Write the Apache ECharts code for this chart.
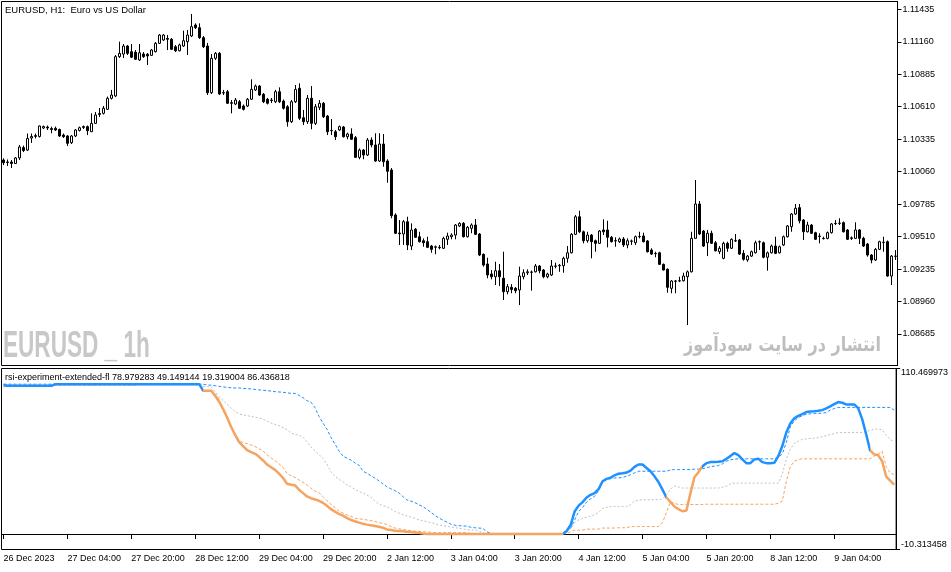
<!DOCTYPE html>
<html>
<head>
<meta charset="utf-8">
<script src="https://cdn.jsdelivr.net/npm/echarts@6/dist/echarts.min.js"></script>
<style>
html,body{margin:0;padding:0;background:#fff;}
#chart{width:951px;height:572px;}
</style>
</head>
<body>
<div id="chart"></div>
<script>
// ---------------- data ----------------
const tickLabels = ['26 Dec 2023','27 Dec 04:00','27 Dec 20:00','28 Dec 12:00','29 Dec 04:00','29 Dec 20:00',
  '2 Jan 12:00','3 Jan 04:00','3 Jan 20:00','4 Jan 12:00','5 Jan 04:00','5 Jan 20:00','8 Jan 12:00','9 Jan 04:00'];
const priceTicks = [1.11435,1.11160,1.10885,1.10610,1.10335,1.10060,1.09785,1.09510,1.09235,1.08960,1.08685];
const indicatorTicks = [-10.313458,110.469973];
const indicatorName = 'rsi-experiment-extended-fl';
const indicatorValues = ['78.979283','49.149144','19.319004','86.436818'];

const open = [1.10159,1.10142,1.10142,1.10129,1.10176,1.10264,1.10243,1.10345,1.10358,1.10358,
1.10430,1.10438,1.10425,1.10427,1.10417,1.10370,1.10362,1.10305,1.10362,1.10409,
1.10434,1.10441,1.10398,1.10469,1.10544,1.10554,1.10588,1.10681,1.10701,1.11034,
1.11056,1.11124,1.11076,1.11071,1.11006,1.11056,1.11054,1.11045,1.11076,1.11147,
1.11175,1.11188,1.11181,1.11118,1.11084,1.11124,1.11161,1.11209,1.11302,1.11279,
1.11195,1.11124,1.10729,1.11020,1.11062,1.10726,1.10737,1.10644,1.10633,1.10652,
1.10616,1.10616,1.10673,1.10752,1.10785,1.10715,1.10673,1.10667,1.10652,1.10737,
1.10658,1.10610,1.10483,1.10652,1.10766,1.10517,1.10483,1.10681,1.10469,1.10605,
1.10639,1.10531,1.10407,1.10398,1.10413,1.10438,1.10356,1.10379,1.10348,1.10181,
1.10243,1.10201,1.10328,1.10286,1.10150,1.10294,1.10150,1.10074,1.09693,1.09540,
1.09532,1.09636,1.09430,1.09572,1.09509,1.09475,1.09467,1.09430,1.09419,1.09419,
1.09411,1.09487,1.09509,1.09523,1.09600,1.09622,1.09509,1.09580,1.09608,1.09532,
1.09360,1.09278,1.09193,1.09170,1.09221,1.09157,1.09043,1.09080,1.09072,1.09058,
1.09170,1.09204,1.09210,1.09212,1.09261,1.09227,1.09170,1.09185,1.09261,1.09263,
1.09263,1.09326,1.09373,1.09529,1.09678,1.09551,1.09475,1.09523,1.09475,1.09453,
1.09566,1.09566,1.09504,1.09473,1.09467,1.09490,1.09439,1.09473,1.09458,1.09509,
1.09515,1.09473,1.09396,1.09365,1.09373,1.09275,1.09233,1.09072,1.09134,1.09134,
1.09136,1.09170,1.09212,1.09495,1.09786,1.09557,1.09458,1.09538,1.09458,1.09382,
1.09326,1.09453,1.09411,1.09475,1.09481,1.09368,1.09312,1.09345,1.09373,1.09464,
1.09458,1.09335,1.09373,1.09430,1.09373,1.09439,1.09509,1.09594,1.09701,1.09755,
1.09650,1.09551,1.09608,1.09543,1.09511,1.09495,1.09495,1.09543,1.09622,1.09622,
1.09628,1.09566,1.09495,1.09495,1.09566,1.09495,1.09447,1.09354,1.09312,1.09402,
1.09462,1.09467,1.09176,1.09345];

const close = [1.10136,1.10137,1.10129,1.10176,1.10269,1.10239,1.10341,1.10358,1.10366,1.10447,
1.10442,1.10430,1.10417,1.10413,1.10362,1.10356,1.10300,1.10362,1.10413,1.10432,
1.10442,1.10407,1.10469,1.10540,1.10553,1.10597,1.10681,1.10709,1.11034,1.11062,
1.11124,1.11062,1.11029,1.11012,1.11067,1.11034,1.11040,1.11090,1.11147,1.11217,
1.11217,1.11181,1.11096,1.11084,1.11133,1.11169,1.11217,1.11288,1.11279,1.11195,
1.11118,1.10729,1.11020,1.11062,1.10718,1.10730,1.10639,1.10639,1.10667,1.10597,
1.10588,1.10673,1.10757,1.10785,1.10709,1.10652,1.10639,1.10663,1.10737,1.10652,
1.10597,1.10483,1.10652,1.10757,1.10512,1.10483,1.10681,1.10469,1.10610,1.10639,
1.10525,1.10398,1.10410,1.10356,1.10441,1.10356,1.10379,1.10334,1.10181,1.10243,
1.10201,1.10328,1.10286,1.10150,1.10294,1.10144,1.10063,1.09687,1.09538,1.09534,
1.09636,1.09439,1.09566,1.09504,1.09467,1.09458,1.09419,1.09402,1.09424,1.09416,
1.09495,1.09515,1.09523,1.09608,1.09622,1.09509,1.09589,1.09608,1.09529,1.09354,
1.09269,1.09185,1.09170,1.09221,1.09170,1.09043,1.09086,1.09063,1.09052,1.09176,
1.09204,1.09212,1.09208,1.09261,1.09221,1.09170,1.09193,1.09261,1.09259,1.09267,
1.09326,1.09373,1.09529,1.09678,1.09551,1.09475,1.09523,1.09467,1.09453,1.09557,
1.09551,1.09504,1.09467,1.09476,1.09490,1.09439,1.09475,1.09471,1.09509,1.09511,
1.09467,1.09382,1.09362,1.09368,1.09275,1.09227,1.09080,1.09134,1.09132,1.09136,
1.09176,1.09212,1.09495,1.09786,1.09532,1.09430,1.09538,1.09453,1.09390,1.09411,
1.09453,1.09411,1.09487,1.09473,1.09362,1.09318,1.09345,1.09382,1.09458,1.09467,
1.09335,1.09373,1.09430,1.09368,1.09424,1.09509,1.09600,1.09701,1.09750,1.09644,
1.09551,1.09608,1.09538,1.09487,1.09515,1.09493,1.09543,1.09617,1.09620,1.09625,
1.09551,1.09487,1.09500,1.09566,1.09495,1.09430,1.09354,1.09312,1.09402,1.09467,
1.09460,1.09176,1.09345,1.09343];

const low = [1.10116,1.10108,1.10091,1.10125,1.10159,1.10226,1.10235,1.10303,1.10341,1.10349,
1.10421,1.10413,1.10385,1.10404,1.10353,1.10345,1.10277,1.10294,1.10353,1.10400,
1.10421,1.10370,1.10396,1.10464,1.10523,1.10544,1.10582,1.10671,1.10692,1.11023,
1.11023,1.11048,1.11023,1.11006,1.10997,1.11023,1.10963,1.11040,1.11069,1.11141,
1.11167,1.11090,1.11090,1.11073,1.11078,1.11116,1.11048,1.11200,1.11268,1.11184,
1.11107,1.10709,1.10718,1.11006,1.10709,1.10709,1.10633,1.10554,1.10624,1.10591,
1.10578,1.10607,1.10667,1.10743,1.10701,1.10641,1.10629,1.10641,1.10641,1.10641,
1.10586,1.10441,1.10472,1.10641,1.10497,1.10455,1.10464,1.10419,1.10455,1.10582,
1.10514,1.10370,1.10370,1.10328,1.10404,1.10349,1.10334,1.10328,1.10176,1.10165,
1.10165,1.10192,1.10266,1.10144,1.10142,1.10102,1.09966,1.09665,1.09532,1.09439,
1.09439,1.09396,1.09396,1.09498,1.09460,1.09424,1.09413,1.09373,1.09360,1.09402,
1.09405,1.09439,1.09487,1.09487,1.09591,1.09502,1.09502,1.09538,1.09523,1.09345,
1.09255,1.09157,1.09148,1.09100,1.09091,1.08973,1.09021,1.09030,1.09030,1.08930,
1.09148,1.09185,1.09052,1.09206,1.09199,1.09157,1.09157,1.09176,1.09241,1.09212,
1.09204,1.09289,1.09367,1.09523,1.09540,1.09453,1.09458,1.09326,1.09382,1.09447,
1.09523,1.09419,1.09460,1.09424,1.09456,1.09422,1.09411,1.09439,1.09439,1.09495,
1.09460,1.09375,1.09354,1.09335,1.09269,1.09223,1.09035,1.09030,1.09030,1.09125,
1.09130,1.08761,1.09206,1.09490,1.09523,1.09422,1.09345,1.09447,1.09384,1.09362,
1.09318,1.09382,1.09405,1.09464,1.09354,1.09306,1.09297,1.09337,1.09367,1.09396,
1.09326,1.09221,1.09367,1.09362,1.09367,1.09430,1.09502,1.09551,1.09693,1.09622,
1.09481,1.09545,1.09532,1.09481,1.09453,1.09485,1.09487,1.09536,1.09608,1.09608,
1.09545,1.09481,1.09481,1.09490,1.09447,1.09422,1.09340,1.09284,1.09303,1.09396,
1.09382,1.09170,1.09100,1.09312];

const high = [1.10173,1.10163,1.10159,1.10184,1.10286,1.10281,1.10383,1.10383,1.10383,1.10451,
1.10451,1.10451,1.10441,1.10442,1.10425,1.10383,1.10370,1.10370,1.10421,1.10442,
1.10451,1.10451,1.10554,1.10565,1.10599,1.10616,1.10696,1.10752,1.11048,1.11161,
1.11141,1.11133,1.11141,1.11090,1.11141,1.11073,1.11065,1.11099,1.11158,1.11226,
1.11226,1.11217,1.11192,1.11133,1.11145,1.11254,1.11260,1.11395,1.11316,1.11316,
1.11209,1.11150,1.11056,1.11073,1.11073,1.10752,1.10752,1.10667,1.10684,1.10667,
1.10629,1.10684,1.10842,1.10798,1.10794,1.10726,1.10684,1.10684,1.10752,1.10774,
1.10671,1.10624,1.10667,1.10794,1.10808,1.10582,1.10709,1.10785,1.10633,1.10667,
1.10650,1.10540,1.10506,1.10413,1.10451,1.10447,1.10390,1.10427,1.10362,1.10256,
1.10252,1.10345,1.10351,1.10385,1.10385,1.10379,1.10165,1.10091,1.09707,1.09650,
1.09650,1.09678,1.09622,1.09583,1.09551,1.09495,1.09509,1.09439,1.09434,1.09439,
1.09509,1.09543,1.09538,1.09617,1.09631,1.09633,1.09600,1.09622,1.09659,1.09540,
1.09367,1.09331,1.09227,1.09297,1.09278,1.09382,1.09108,1.09108,1.09083,1.09255,
1.09233,1.09233,1.09223,1.09278,1.09269,1.09235,1.09204,1.09312,1.09289,1.09278,
1.09340,1.09430,1.09540,1.09693,1.09729,1.09561,1.09551,1.09532,1.09485,1.09566,
1.09656,1.09644,1.09515,1.09504,1.09502,1.09506,1.09495,1.09485,1.09519,1.09551,
1.09543,1.09481,1.09411,1.09382,1.09382,1.09282,1.09241,1.09142,1.09142,1.09170,
1.09204,1.09223,1.09551,1.09989,1.09811,1.09566,1.09566,1.09560,1.09473,1.09430,
1.09467,1.09467,1.09495,1.09532,1.09490,1.09396,1.09354,1.09392,1.09475,1.09477,
1.09468,1.09384,1.09443,1.09509,1.09434,1.09519,1.09608,1.09710,1.09786,1.09786,
1.09659,1.09636,1.09617,1.09551,1.09538,1.09509,1.09553,1.09625,1.09650,1.09665,
1.09638,1.09574,1.09511,1.09631,1.09574,1.09509,1.09456,1.09362,1.09413,1.09475,
1.09509,1.09477,1.09354,1.09396];

const rsi = [99.5,98.9,98.9,98.9,98.9,98.9,98.9,98.9,98.9,98.9,
98.9,98.9,98.9,100,100,100,100,100,100,100,
100,100,100,100,100,100,100,100,100,100,
100,100,100,100,100,100,100,100,100,100,
100,100,100,100,100,100,100,100,100,100,
95.7,95.7,95.7,92.3,88.3,83.4,77.8,71.5,66.1,61.4,
58.7,56.0,54.7,53.5,51.5,49.1,46.4,44.6,42.8,40.3,
37.4,33.6,32.9,32.5,29.6,27.3,25.1,23.9,23.1,22.2,
20.8,18.8,16.6,15.0,13.4,12.3,10.7,9.4,8.5,7.6,
6.9,6.3,5.8,5.4,4.9,4.2,3.1,2.7,2.2,2.0,
1.8,1.6,1.3,1.1,0.9,0.4,0,0,0,0,
0,0,0,0,0,0,0,0,0,0,
0,0,0,0,0,0,0,0,0,0,
0,0,0,0,0,0,0,0,0,0,
0,2.0,6.0,15.0,19.0,21.3,24.4,26.2,27.3,30.0,
35.2,36.8,37.6,39.2,40.3,40.6,41.0,42.3,44.8,46.4,
46.4,44.1,41.9,38.5,34.7,29.6,24.4,21.3,18.4,16.6,
15.2,15.7,27.3,37.9,41.2,45.3,47.3,48.0,48.0,48.2,
48.6,50.2,52.0,54.0,52.6,49.8,47.3,47.3,49.8,50.2,
48.0,47.3,47.3,47.5,52.0,58.7,67.7,73.7,77.3,78.9,
80.0,81.4,81.8,82.0,82.3,82.7,83.8,85.2,86.7,88.1,
87.6,86.5,86.5,86.5,84.0,76.7,66.6,55.8,53.1,52.7,
48.6,38.5,35.6,32.9];

const upperBand = [100,100,100,100,100,100,100,100,100,100,
100,100,100,100,100,100,100,100,100,100,
100,100,100,100,100,100,100,100,100,100,
100,100,100,100,100,100,100,100,100,100,
100,100,100,100,100,100,100,100,100,100,
100,99.5,99.3,99.0,98.5,98.2,97.9,97.6,97.5,97.5,
97.2,97.0,96.8,96.5,96.2,95.9,95.7,95.4,95.0,94.8,
94.6,94.2,93.9,93.9,92.5,91.0,89.0,88.0,84.3,78.5,
74.0,70.0,64.5,60.0,55.5,52.0,50.7,49.3,47.5,46.0,
42.0,40.5,39.0,37.3,35.5,33.5,31.6,30.2,29.0,27.5,
25.0,22.8,22.0,21.0,19.5,18.4,16.5,14.5,12.5,10.8,
9.3,8.0,6.6,5.9,5.6,5.4,5.3,4.5,4.2,4.0,
3.8,1.5,0.5,0.4,0.4,0.4,0.4,0.4,0.4,0.4,
0,0,0,0,0,0,0,0,0,0,
0,1.5,3.8,9.4,15.0,17.7,21.3,23.5,25.1,28.9,
34.7,36.3,37.0,37.4,37.4,37.9,38.5,39.6,40.8,41.9,
41.9,41.9,41.9,41.9,41.9,41.9,41.9,42.8,43.0,43.0,
43.0,43.0,43.0,43.3,43.3,43.7,44.1,45.0,45.3,45.7,
46.8,48.6,49.5,50.0,50.2,50.2,50.2,50.2,50.2,50.2,
50.2,50.2,50.2,50.2,51.3,53.5,61.0,71.5,75.5,77.8,
78.9,80.0,80.2,80.5,80.5,80.7,81.1,82.7,83.8,84.5,
84.5,84.5,84.5,84.5,84.5,84.5,84.5,84.5,84.5,84.5,
84.5,84.5,84.5,82.7];

const midBand = [99.5,99.5,99.5,99.5,99.5,99.5,99.5,99.5,99.5,99.5,
99.5,99.5,99.5,99.5,99.5,99.5,99.5,99.5,99.5,99.5,
99.5,99.5,99.5,99.5,99.5,99.5,99.5,99.5,99.5,99.5,
99.5,99.5,99.5,99.5,99.5,99.5,99.5,99.5,99.5,99.5,
99.5,99.5,99.5,99.5,99.5,99.5,99.5,99.5,99.5,99.5,
98.4,98.4,98.2,95.0,91.5,89.0,86.5,84.0,81.8,80.2,
79.5,79.0,78.5,78.0,77.5,76.7,75.3,74.0,73.2,72.3,
71.0,69.5,67.5,66.4,66.0,64.5,61.5,58.0,55.5,53.0,
50.5,46.5,41.5,38.5,36.5,35.0,32.8,31.5,29.8,28.5,
27.3,26.0,24.5,22.0,20.0,18.9,18.3,16.8,15.0,14.0,
13.0,12.0,11.3,10.5,9.5,8.9,8.3,7.6,7.0,6.1,
5.6,5.2,4.7,4.3,3.9,3.4,2.9,2.7,2.7,2.0,
0.6,0.4,0.4,0.4,0.4,0.4,0.4,0.4,0.4,0.4,
0,0,0,0,0,0,0,0,0,0,
0,1.0,3.5,7.5,9.4,10.5,11.2,12.0,12.8,14.5,
17.2,17.8,18.4,18.4,18.4,18.4,18.4,19.5,22.0,22.6,
22.9,22.9,22.9,22.9,22.9,23.5,26.0,30.0,32.0,31.5,
30.7,30.7,30.7,30.7,30.7,30.7,30.7,30.7,30.7,30.7,
31.2,32.0,33.5,34.0,34.0,34.0,34.0,34.0,34.0,34.0,
34.0,34.0,34.0,34.0,34.0,40.0,50.0,56.5,60.5,62.0,
63.2,63.5,63.8,64.0,64.3,65.0,65.8,66.4,67.0,67.7,
67.7,67.7,67.7,67.7,67.7,67.7,68.3,69.2,69.9,70.2,
69.5,66.0,63.0,61.6];

const lowerBand = [98.0,99.0,99.0,99.0,99.0,99.0,99.0,99.0,99.0,99.0,
99.0,99.0,99.0,99.3,99.3,99.3,99.3,99.3,99.3,99.3,
99.3,99.3,99.3,99.3,99.3,99.3,99.3,99.3,99.3,99.3,
99.3,99.3,99.3,99.3,100,100,100,100,100,100,
100,100,100,100,100,100,100,100,100,100,
96.5,95.7,95.7,93.5,90.0,82.3,77.0,72.0,66.5,62.5,
61.0,60.3,59.5,58.3,57.0,55.3,52.8,50.8,49.0,46.8,
44.3,40.5,38.8,37.8,36.1,34.5,32.8,30.5,28.6,27.5,
25.0,22.3,19.8,17.6,15.3,14.0,12.7,11.8,10.6,10.2,
9.8,9.4,8.9,8.4,7.7,7.0,6.4,5.0,4.0,3.5,
3.0,2.6,2.3,2.0,1.8,1.6,1.4,1.2,0.9,0.9,
0.9,0.9,0.9,0.9,0.9,0.9,0.9,0.4,0.4,0.4,
0,0,0,0,0,0,0,0,0,0,
0,0,0,0,0,0,0,0,0,0,
0,0.4,1.5,2.6,2.6,2.6,3.3,3.3,3.3,3.3,
4.0,4.0,4.0,4.0,4.2,4.2,4.2,5.0,5.0,5.0,
5.0,5.0,5.0,5.0,5.0,7.5,14.5,21.5,20.5,19.7,
19.7,19.7,19.7,19.7,19.7,19.7,19.9,19.9,19.9,19.9,
19.9,19.9,19.9,19.9,19.9,19.9,19.9,19.9,19.9,19.9,
19.9,19.9,19.9,19.9,20.5,22.0,35.0,45.0,48.6,49.8,
50.2,50.2,50.2,50.2,50.2,50.2,50.2,50.2,50.2,50.2,
50.2,50.2,50.2,50.2,50.2,50.2,50.2,50.2,52.0,53.1,
55.3,45.0,41.0,39.6];

// bar indices where the RSI line colour flips (starts blue)
const rsiColorBreaks = [49.6, 140, 166.4, 174.6, 217];

// ---------------- chart ----------------
const BLUE = '#1E90FF', ORANGE = '#F4A460', GRAY = '#C0C0C0';
const FONT = '"Liberation Sans", Arial, sans-serif';
const categories = open.map((_, i) => i);
const candles = open.map((o, i) => [o, close[i], low[i], high[i]]);

const pieces = [];
let prev = null;
for (let k = 0; k <= rsiColorBreaks.length; k++) {
  const p = { color: k % 2 === 0 ? BLUE : ORANGE };
  if (prev !== null) p.gte = prev;
  if (k < rsiColorBreaks.length) p.lt = rsiColorBreaks[k];
  pieces.push(p);
  prev = rsiColorBreaks[k];
}

const chart = echarts.init(document.getElementById('chart'), null, { renderer: 'canvas' });
const option = {
  animation: false,
  backgroundColor: '#fff',
  grid: [
    { left: 1.5, top: 1.5, width: 896, height: 364, show: true, borderColor: '#000', borderWidth: 1, containLabel: false },
    { left: 1.5, top: 368.5, width: 896, height: 181, show: true, borderColor: '#000', borderWidth: 1, containLabel: false }
  ],
  xAxis: [
    { type: 'category', gridIndex: 0, data: categories, boundaryGap: true,
      axisLine: { show: false }, axisTick: { show: false }, axisLabel: { show: false }, splitLine: { show: false } },
    { type: 'category', gridIndex: 1, data: categories, boundaryGap: true,
      axisLine: { show: true, lineStyle: { color: '#000', width: 1 } },
      axisTick: { show: true, alignWithLabel: true, length: 5, interval: (i) => i % 16 === 0, lineStyle: { color: '#000' } },
      axisLabel: { show: true, interval: (i) => i % 16 === 0, formatter: (v, i) => tickLabels[Math.round(i / 16)] || '',
        align: 'left', color: '#000', fontSize: 9, fontFamily: FONT, margin: 5 },
      splitLine: { show: false } }
  ],
  yAxis: [
    { type: 'value', gridIndex: 0, position: 'right', min: 1.115011 - 0.030828, max: 1.115011,
      axisLine: { show: true, lineStyle: { color: '#000' } },
      axisTick: { show: true, customValues: priceTicks, length: 4, lineStyle: { color: '#000' } },
      axisLabel: { show: true, customValues: priceTicks, formatter: (v) => Number(v).toFixed(5),
        color: '#000', fontSize: 9, fontFamily: FONT, margin: 5 },
      splitLine: { show: false } },
    { type: 'value', gridIndex: 1, position: 'right', min: indicatorTicks[0], max: indicatorTicks[1],
      axisLine: { show: true, lineStyle: { color: '#000' } },
      axisTick: { show: true, customValues: indicatorTicks, length: 4, lineStyle: { color: '#000' } },
      axisLabel: { show: true, customValues: indicatorTicks, formatter: (v) => Number(v).toFixed(6),
        color: '#000', fontSize: 9, fontFamily: FONT, margin: 5,
        verticalAlignMaxLabel: 'top', verticalAlignMinLabel: 'bottom' },
      splitLine: { show: false } }
  ],
  visualMap: {
    type: 'piecewise', show: false, seriesIndex: 4, dimension: 0, pieces: pieces
  },
  series: [
    { type: 'candlestick', xAxisIndex: 0, yAxisIndex: 0, data: candles, barWidth: 2,
      itemStyle: { color: '#fff', color0: '#000', borderColor: '#000', borderColor0: '#000', borderColorDoji: '#000', borderWidth: 1 } },
    { type: 'line', xAxisIndex: 1, yAxisIndex: 1, data: upperBand, symbol: 'none', z: 2,
      lineStyle: { color: BLUE, width: 1, type: [3, 2] } },
    { type: 'line', xAxisIndex: 1, yAxisIndex: 1, data: midBand, symbol: 'none', z: 2,
      lineStyle: { color: GRAY, width: 1, type: [2, 2] } },
    { type: 'line', xAxisIndex: 1, yAxisIndex: 1, data: lowerBand, symbol: 'none', z: 2,
      lineStyle: { color: ORANGE, width: 1, type: [3, 2] } },
    { type: 'line', xAxisIndex: 1, yAxisIndex: 1, data: rsi, symbol: 'none', z: 3,
      lineStyle: { width: 2.5 } }
  ],
  graphic: [
    { type: 'text', x: 5, y: 10, z: 10,
      style: { text: 'EURUSD, H1:  Euro vs US Dollar', font: '9.5px ' + FONT, fill: '#000', verticalAlign: 'middle' } },
    { type: 'text', x: 3, y: 347, scaleX: 0.61, z: 1,
      style: { text: 'EURUSD _ 1h', font: 'bold 37px ' + FONT, fill: '#C8C8C8', verticalAlign: 'middle' } },
    { type: 'text', x: 881, y: 346, scaleX: 0.8, z: 1,
      style: { text: 'انتشار در سایت سودآموز', font: 'bold 20px "DejaVu Sans", sans-serif', fill: '#BEBEBE', align: 'right', verticalAlign: 'middle' } },
    { type: 'text', x: 5, y: 378, z: 10,
      style: { text: indicatorName + ' ' + indicatorValues.join(' '), font: '9px ' + FONT, fill: '#000', verticalAlign: 'middle' } }
  ]
};
chart.setOption(option);
</script>
</body>
</html>
